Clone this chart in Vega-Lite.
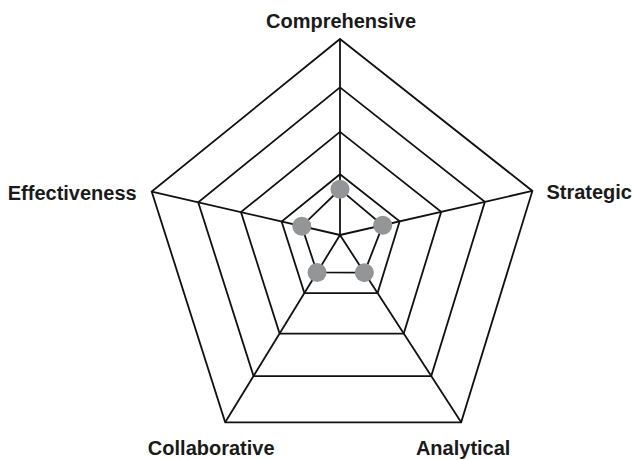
{
  "$schema": "https://vega.github.io/schema/vega-lite/v6.json",
  "width": 634,
  "height": 460,
  "autosize": "none",
  "padding": 0,
  "background": "white",
  "config": {"view": {"stroke": null}},
  "datasets": {
    "axes": [
      {"axis": "Comprehensive", "idx": 0, "angle": 90, "length": 1.0, "score": 0.233},
      {"axis": "Strategic", "idx": 1, "angle": 12.9, "length": 1.007, "score": 0.222},
      {"axis": "Analytical", "idx": 2, "angle": -57.1, "length": 1.138, "score": 0.201},
      {"axis": "Collaborative", "idx": 3, "angle": -121.5, "length": 1.121, "score": 0.2},
      {"axis": "Effectiveness", "idx": 4, "angle": 167.0, "length": 0.986, "score": 0.203}
    ],
    "grid": [
      {"level": 1, "axis": ["Comprehensive", "Strategic", "Analytical", "Collaborative", "Effectiveness"]},
      {"level": 0.753, "axis": ["Comprehensive", "Strategic", "Analytical", "Collaborative", "Effectiveness"]},
      {"level": 0.526, "axis": ["Comprehensive", "Strategic", "Analytical", "Collaborative", "Effectiveness"]},
      {"level": 0.31, "axis": ["Comprehensive", "Strategic", "Analytical", "Collaborative", "Effectiveness"]}
    ]
  },
  "layer": [
    {
      "data": {"name": "grid"},
      "transform": [
        {"flatten": ["axis"]},
        {"lookup": "axis", "from": {"data": {"name": "axes"}, "key": "axis", "fields": ["idx", "angle", "length"]}},
        {"calculate": "datum.level * datum.length * cos(datum.angle * PI / 180)", "as": "gx"},
        {"calculate": "datum.level * datum.length * sin(datum.angle * PI / 180)", "as": "gy"}
      ],
      "mark": {"type": "line", "interpolate": "linear-closed", "color": "#111111", "strokeWidth": 1.8},
      "encoding": {
        "x": {"field": "gx", "type": "quantitative", "scale": {"domain": [-1.73469, 1.5], "zero": false, "nice": false}, "axis": null},
        "y": {"field": "gy", "type": "quantitative", "scale": {"domain": [-1.14796, 1.19898], "zero": false, "nice": false}, "axis": null},
        "detail": {"field": "level", "type": "nominal"},
        "order": {"field": "idx", "type": "quantitative"}
      }
    },
    {
      "data": {"name": "axes"},
      "transform": [
        {"calculate": "datum.length * cos(datum.angle * PI / 180)", "as": "vx"},
        {"calculate": "datum.length * sin(datum.angle * PI / 180)", "as": "vy"}
      ],
      "mark": {"type": "rule", "color": "#111111", "strokeWidth": 1.8},
      "encoding": {
        "x": {"field": "vx", "type": "quantitative"},
        "y": {"field": "vy", "type": "quantitative"},
        "x2": {"datum": 0},
        "y2": {"datum": 0}
      }
    },
    {
      "data": {"name": "axes"},
      "transform": [
        {"calculate": "datum.score * datum.length * cos(datum.angle * PI / 180)", "as": "sx"},
        {"calculate": "datum.score * datum.length * sin(datum.angle * PI / 180)", "as": "sy"}
      ],
      "layer": [
        {
          "mark": {"type": "line", "interpolate": "linear-closed", "color": "#111111", "strokeWidth": 1.8},
          "encoding": {
            "x": {"field": "sx", "type": "quantitative"},
            "y": {"field": "sy", "type": "quantitative"},
            "order": {"field": "idx", "type": "quantitative"}
          }
        },
        {
          "mark": {"type": "circle", "size": 360, "color": "#939598", "opacity": 1},
          "encoding": {
            "x": {"field": "sx", "type": "quantitative"},
            "y": {"field": "sy", "type": "quantitative"}
          }
        }
      ]
    },
    {
      "data": {"name": "axes"},
      "transform": [
        {"calculate": "datum.length * cos(datum.angle * PI / 180)", "as": "vx"},
        {"calculate": "datum.length * sin(datum.angle * PI / 180)", "as": "vy"}
      ],
      "encoding": {
        "x": {"field": "vx", "type": "quantitative"},
        "y": {"field": "vy", "type": "quantitative"},
        "text": {"field": "axis", "type": "nominal"}
      },
      "layer": [
        {
          "transform": [{"filter": "datum.axis === 'Comprehensive'"}],
          "mark": {"type": "text", "font": "Liberation Sans", "fontWeight": "bold", "fontSize": 20, "color": "#1a1a1a", "align": "center", "baseline": "alphabetic", "dx": 1, "dy": -11}
        },
        {
          "transform": [{"filter": "datum.axis === 'Strategic'"}],
          "mark": {"type": "text", "font": "Liberation Sans", "fontWeight": "bold", "fontSize": 20, "color": "#1a1a1a", "align": "left", "baseline": "alphabetic", "dx": 14, "dy": 8}
        },
        {
          "transform": [{"filter": "datum.axis === 'Effectiveness'"}],
          "mark": {"type": "text", "font": "Liberation Sans", "fontWeight": "bold", "fontSize": 20, "color": "#1a1a1a", "align": "right", "baseline": "alphabetic", "dx": -15, "dy": 8}
        },
        {
          "transform": [{"filter": "datum.axis === 'Collaborative'"}],
          "mark": {"type": "text", "font": "Liberation Sans", "fontWeight": "bold", "fontSize": 20, "color": "#1a1a1a", "align": "center", "baseline": "alphabetic", "dx": -14, "dy": 33}
        },
        {
          "transform": [{"filter": "datum.axis === 'Analytical'"}],
          "mark": {"type": "text", "font": "Liberation Sans", "fontWeight": "bold", "fontSize": 20, "color": "#1a1a1a", "align": "center", "baseline": "alphabetic", "dx": 2, "dy": 33}
        }
      ]
    }
  ]
}
